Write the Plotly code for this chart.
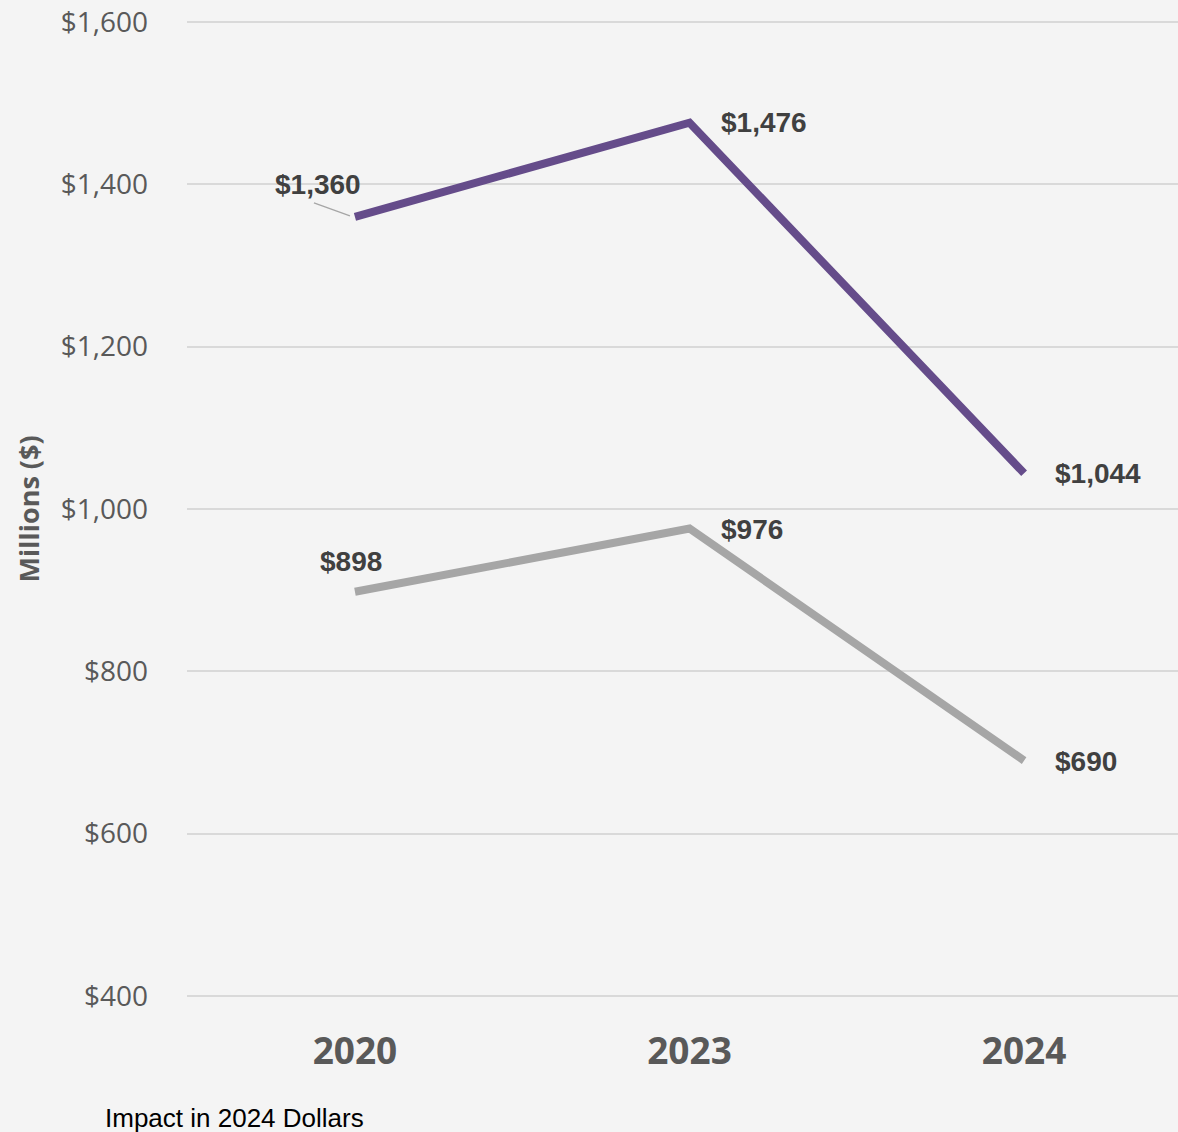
import plotly.graph_objects as go

# Economic impact, millions of 2024 dollars
years = ["2020", "2023", "2024"]
total_impact = [1360, 1476, 1044]
direct_impact = [898, 976, 690]
total_labels = ["$1,360", "$1,476", "$1,044"]
direct_labels = ["$898", "$976", "$690"]
y_ticks = [400, 600, 800, 1000, 1200, 1400, 1600]
y_tick_text = ["$400", "$600", "$800", "$1,000", "$1,200", "$1,400", "$1,600"]

PURPLE = "#654C8A"
GRAY = "#A6A6A6"
BG = "#F4F4F4"
xpos = list(range(len(years)))

fig = go.Figure()
fig.add_trace(go.Scatter(x=xpos, y=total_impact, mode="lines",
                         line=dict(color=PURPLE, width=8), hoverinfo="skip"))
fig.add_trace(go.Scatter(x=xpos, y=direct_impact, mode="lines",
                         line=dict(color=GRAY, width=8), hoverinfo="skip"))

label_font = dict(family="Liberation Sans, Arial", size=28, color="#404040")

# value labels: first purple point gets a leader line, others sit beside/above
for i, (v, t) in enumerate(zip(total_impact, total_labels)):
    if i == 0:
        fig.add_annotation(x=xpos[i], y=v, text="<b>%s</b>" % t, showarrow=False,
                           xanchor="center", yanchor="middle", xshift=-37, yshift=32,
                           font=label_font)
        # leader line, offsets in pixels from the data point
        fig.add_shape(type="line", xref="x", yref="y",
                      xsizemode="pixel", ysizemode="pixel",
                      xanchor=xpos[i], yanchor=v,
                      x0=-41, y0=14, x1=-5, y1=1,
                      line=dict(color="#A6A6A6", width=1.3))
    else:
        fig.add_annotation(x=xpos[i], y=v, text="<b>%s</b>" % t, showarrow=False,
                           xanchor="left", xshift=29, yshift=0, font=label_font)
for i, (v, t) in enumerate(zip(direct_impact, direct_labels)):
    if i == 0:
        fig.add_annotation(x=xpos[i], y=v, text="<b>%s</b>" % t, showarrow=False,
                           xanchor="center", yanchor="middle", xshift=-4, yshift=30,
                           font=label_font)
    else:
        fig.add_annotation(x=xpos[i], y=v, text="<b>%s</b>" % t, showarrow=False,
                           xanchor="left", xshift=29, yshift=-1, font=label_font)

# axis title and footnote
fig.add_annotation(xref="paper", yref="paper", x=-0.160, y=0.50, text="<b>Millions ($)</b>",
                   textangle=-90, showarrow=False, xanchor="center", yanchor="middle",
                   font=dict(family="Open Sans, Lato", size=27, color="#595959"))
fig.add_annotation(xref="paper", yref="paper", x=-0.0848, y=-0.1232,
                   text="Impact in 2024 Dollars", showarrow=False,
                   xanchor="left", yanchor="middle",
                   font=dict(family="Liberation Sans, Arial", size=26, color="#000000"))

fig.update_layout(
    width=1178, height=1132,
    margin=dict(l=187, r=0, t=20, b=134),
    paper_bgcolor=BG, plot_bgcolor=BG,
    showlegend=False,
    xaxis=dict(range=[-0.502, 2.46], tickvals=xpos, ticktext=years,
               showgrid=False, zeroline=False, showline=False, ticks="",
               ticklabelstandoff=28,
               tickfont=dict(family="Open Sans, Lato", size=37, color="#595959", weight="bold")),
    yaxis=dict(range=[397.5, 1602.5], tickvals=y_ticks, ticktext=y_tick_text,
               showgrid=True, gridcolor="#D9D9D9", gridwidth=2, zeroline=False,
               showline=False, ticks="", ticklabelstandoff=38,
               tickfont=dict(family="Open Sans, Lato", size=28, color="#595959")),
)

fig.write_html("out.html")
